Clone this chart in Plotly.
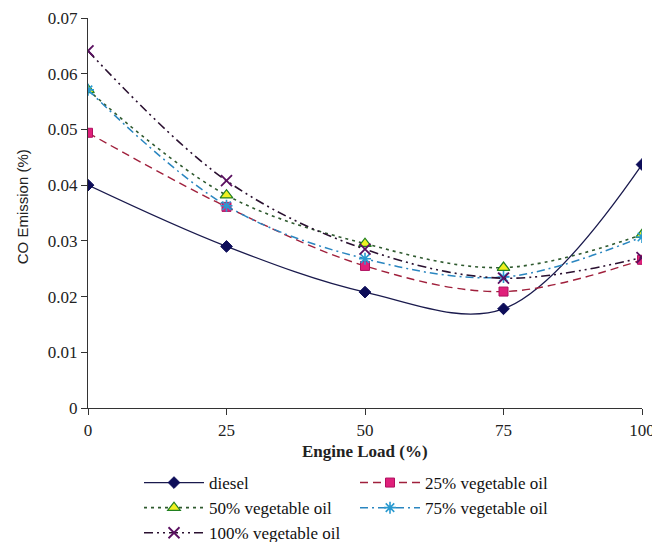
import plotly.graph_objects as go

loads = [0, 25, 50, 75, 100]
diesel = [0.0400, 0.0290, 0.0208, 0.0178, 0.0437]
veg25 = [0.0494, 0.0361, 0.0255, 0.0209, 0.0266]
veg50 = [0.0571, 0.0382, 0.0295, 0.0252, 0.0311]
veg75 = [0.0571, 0.0363, 0.0268, 0.0235, 0.0307]
veg100 = [0.0641, 0.0408, 0.0285, 0.0233, 0.0270]

y_ticks = [0, 0.01, 0.02, 0.03, 0.04, 0.05, 0.06, 0.07]
y_tick_labels = ["0", "0.01", "0.02", "0.03", "0.04", "0.05", "0.06", "0.07"]
x_ticks = [0, 25, 50, 75, 100]

FONT = "Liberation Serif, Times New Roman, serif"
W, H = 652, 534  # page adds an 8px body margin

series = [
    ("diesel", diesel, "legend", dict(color="#1a1a4d", width=1.3, dash="solid"),
     dict(symbol="diamond", size=9, color="#0d0d59", line=dict(color="#0d0d59", width=1))),
    ("25% vegetable oil", veg25, "legend2", dict(color="#a0203c", width=1.4, dash="8px,5px"),
     dict(symbol="square", size=9, color="#e0207a", line=dict(color="#b01060", width=1))),
    ("50% vegetable oil", veg50, "legend", dict(color="#2f5a2f", width=1.6, dash="3px,4px"),
     dict(symbol="triangle-up", size=11, color="#f0f020", line=dict(color="#208020", width=1.2))),
    ("75% vegetable oil", veg75, "legend2", dict(color="#2a86c0", width=1.5, dash="8px,4px,2px,4px"),
     dict(symbol="asterisk-open", size=10, color="#2a9ad0", line=dict(color="#2a9ad0", width=1.6))),
    ("100% vegetable oil", veg100, "legend", dict(color="#2a1030", width=1.6, dash="9px,4px,2px,4px,2px,4px"),
     dict(symbol="x-thin-open", size=11, color="#5a1060", line=dict(color="#5a1060", width=1.8))),
]

fig = go.Figure()
for name, vals, leg, line, marker in series:
    fig.add_trace(go.Scatter(
        x=loads, y=vals, name=name, mode="lines+markers",
        line=dict(shape="spline", smoothing=1.0, **line),
        marker=marker, legend=leg,
    ))

legfont = dict(family=FONT, size=17, color="#111111")
fig.update_layout(
    width=W, height=H,
    margin=dict(l=80, r=18, t=10, b=134, autoexpand=False),
    paper_bgcolor="white", plot_bgcolor="white",
    font=dict(family=FONT, size=15, color="#222222"),
    showlegend=True,
    legend=dict(
        orientation="v", xref="container", yref="container",
        x=131 / W, xanchor="left", y=1 - 457 / H, yanchor="top",
        font=legfont, tracegroupgap=0, itemwidth=60, bgcolor="rgba(0,0,0,0)",
    ),
    legend2=dict(
        orientation="v", xref="container", yref="container",
        x=347 / W, xanchor="left", y=1 - 457 / H, yanchor="top",
        font=legfont, tracegroupgap=0, itemwidth=60, bgcolor="rgba(0,0,0,0)",
    ),
    annotations=[
        dict(text="<b>Engine Load (%)</b>", xref="paper", yref="paper",
             x=0.5, y=-0.1128, xanchor="center", yanchor="middle", showarrow=False,
             font=dict(family=FONT, size=17, color="#222222")),
        dict(text="CO Emission (%)", xref="paper", yref="paper",
             x=-0.119, y=0.515, xanchor="center", yanchor="middle", showarrow=False,
             textangle=-90,
             font=dict(family="Liberation Sans, Arial, sans-serif", size=15, color="#222222")),
    ],
)
fig.update_xaxes(
    range=[0, 100], tickvals=x_ticks, showgrid=False, zeroline=False,
    showline=True, linecolor="#333333", linewidth=1.3,
    ticks="outside", ticklen=6, tickcolor="#333333",
    tickfont=dict(family=FONT, size=17, color="#222222"),
    automargin=False,
)
fig.update_yaxes(
    range=[0, 0.07], tickvals=y_ticks, ticktext=y_tick_labels, showgrid=False, zeroline=False,
    showline=True, linecolor="#333333", linewidth=1.3,
    ticks="outside", ticklen=6, tickcolor="#333333",
    tickfont=dict(family=FONT, size=17, color="#222222"),
    automargin=False,
)

fig.write_html("out.html")
